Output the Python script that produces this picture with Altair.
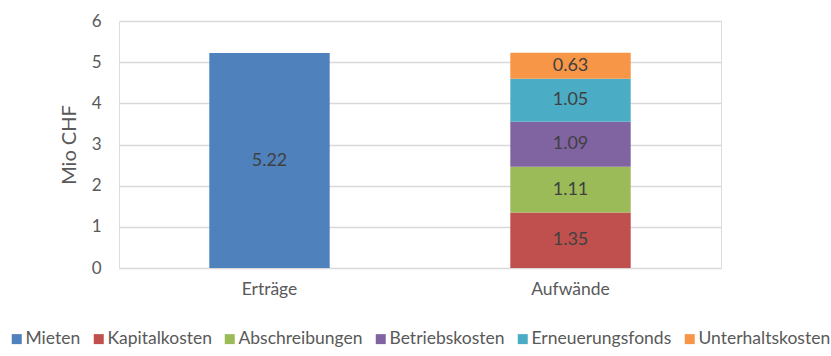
import altair as alt
import pandas as pd

categories = ["Erträge", "Aufwände"]
series = ["Mieten", "Kapitalkosten", "Abschreibungen", "Betriebskosten", "Erneuerungsfonds", "Unterhaltskosten"]
colors = ["#4F81BD", "#C0504D", "#9BBB59", "#8064A2", "#4BACC6", "#F79646"]
row_category = ["Erträge", "Aufwände", "Aufwände", "Aufwände", "Aufwände", "Aufwände"]
values = [5.22, 1.35, 1.11, 1.09, 1.05, 0.63]

df = pd.DataFrame({
    "cat": row_category,
    "series": series,
    "value": values,
    "idx": list(range(len(series))),
})

FONT = "Lato"

base = alt.Chart(df).transform_stack(
    stack="value", groupby=["cat"], sort=[alt.SortField("idx")], as_=["y0", "y1"]
).transform_calculate(mid="(datum.y0 + datum.y1) / 2")

x_enc = alt.X("cat:N", sort=categories, title=None,
              scale=alt.Scale(paddingInner=0.6, paddingOuter=0.3),
              axis=alt.Axis(labelAngle=0, ticks=False, domain=False, labelPadding=12,
                            labelFontSize=17.5, labelColor="#595959", labelFont=FONT))

bars = base.mark_bar().encode(
    x=x_enc,
    y=alt.Y("y0:Q", title="Mio CHF",
            scale=alt.Scale(domain=[0, 6], nice=False),
            axis=alt.Axis(values=[0, 1, 2, 3, 4, 5, 6], ticks=False, domain=False,
                          gridColor="#D9D9D9", gridWidth=1.3, labelPadding=18,
                          labelFontSize=17, labelColor="#595959", labelFont=FONT,
                          titleFontSize=20, titleColor="#595959", titleFont=FONT,
                          titleFontWeight="normal", titlePadding=12)),
    y2="y1:Q",
    color=alt.Color("series:N", sort=series,
                    scale=alt.Scale(domain=series, range=colors),
                    legend=alt.Legend(orient="none", legendX=-111, legendY=309,
                                      direction="horizontal", title=None,
                                      symbolType="square", symbolSize=100,
                                      symbolStrokeWidth=0, labelFontSize=17.5,
                                      labelColor="#595959", labelFont=FONT,
                                      labelOffset=0, columnPadding=9)),
)

labels = base.mark_text(fontSize=18, color="#404040", font=FONT).encode(
    x=alt.X("cat:N", sort=categories),
    y=alt.Y("mid:Q"),
    text=alt.Text("value:Q", format=".2f"),
)

chart = (bars + labels).properties(
    width=602, height=247,
    autosize=alt.AutoSizeParams(type="none"),
    padding={"left": 119, "top": 21, "right": 110, "bottom": 88},
).configure_view(stroke=None).configure(background="white")

chart.save("out.html", embed_options={"renderer": "svg", "actions": False})
